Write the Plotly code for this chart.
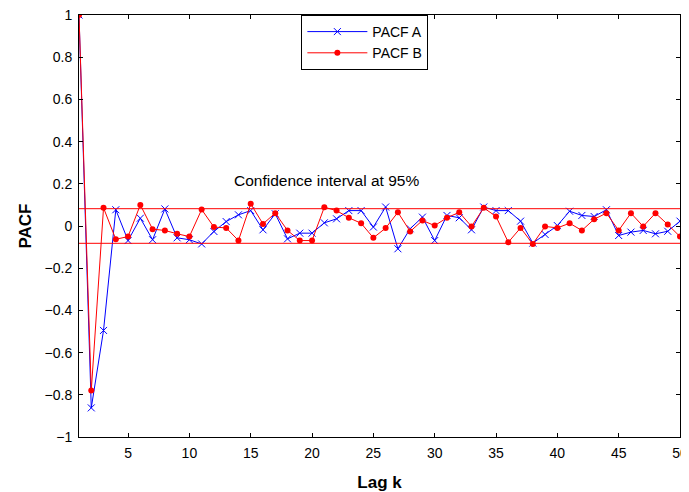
import plotly.graph_objects as go

lags = list(range(1, 51))

pacf_a = [1.0, -0.862, -0.495, 0.077, -0.069, 0.037, -0.065, 0.081, -0.056, -0.065,
          -0.085, -0.026, 0.021, 0.053, 0.073, -0.018, 0.058, -0.061, -0.034, -0.034,
          0.015, 0.034, 0.073, 0.073, -0.005, 0.09, -0.108, -0.013, 0.042, -0.069,
          0.05, 0.039, -0.018, 0.09, 0.073, 0.073, 0.023, -0.081, -0.04, 0.002,
          0.07, 0.05, 0.045, 0.077, -0.045, -0.029, -0.021, -0.037, -0.025, 0.023]

pacf_b = [1.0, -0.78, 0.086, -0.063, -0.05, 0.10, -0.015, -0.021, -0.037, -0.05,
          0.078, -0.005, -0.009, -0.069, 0.105, 0.01, 0.061, -0.021, -0.069, -0.069,
          0.089, 0.073, 0.039, 0.013, -0.056, -0.01, 0.065, -0.026, 0.026, 0.002,
          0.039, 0.065, -0.002, 0.086, 0.045, -0.077, -0.009, -0.085, -0.002, -0.009,
          0.013, -0.021, 0.032, 0.061, -0.021, 0.061, -0.002, 0.061, 0.007, -0.05]

ci = 0.082

fig = go.Figure()
fig.add_trace(go.Scatter(x=lags, y=pacf_a, mode="lines+markers", name="PACF A",
                         line=dict(color="blue", width=1),
                         marker=dict(symbol="x-thin", size=7, color="blue",
                                     line=dict(color="blue", width=1))))
fig.add_trace(go.Scatter(x=lags, y=pacf_b, mode="lines+markers", name="PACF B",
                         line=dict(color="red", width=1),
                         marker=dict(symbol="circle", size=6, color="red")))

# confidence band
for lvl in [ci, -ci]:
    fig.add_shape(type="line", xref="x", yref="y", x0=lags[0], x1=lags[-1],
                  y0=lvl, y1=lvl, line=dict(color="red", width=1))

fig.add_annotation(x=21.2, y=0.215, text="Confidence interval at 95%",
                   showarrow=False, font=dict(size=15.5, color="black"))

axis_style = dict(showgrid=False, zeroline=False, showline=True, linecolor="black",
                  linewidth=1, mirror="allticks", ticks="inside", ticklen=4,
                  tickcolor="black", tickfont=dict(size=14, color="black"),
                  automargin=False, ticklabeloverflow="allow", ticklabelstandoff=3)

fig.update_xaxes(range=[1, 50], tickvals=list(range(5, 51, 5)),
                 title=dict(text="<b>Lag k</b>", font=dict(size=17, color="black"),
                            standoff=16),
                 **axis_style)
fig.update_yaxes(range=[-1, 1], tickvals=[round(-1 + 0.2 * i, 1) for i in range(11)],
                 title=dict(text="<b>PACF</b>", font=dict(size=17, color="black"),
                            standoff=8),
                 **axis_style)

# page body adds 8px around the plot, so the figure is sized to fit inside it
fig.update_layout(
    width=681, height=484,
    margin=dict(l=71, r=9, t=7, b=55),
    plot_bgcolor="white", paper_bgcolor="white",
    font=dict(family="Liberation Sans, Arial", color="black"),
    legend=dict(x=0.37, y=1, xanchor="left", yanchor="top",
                bgcolor="white", bordercolor="black", borderwidth=1,
                font=dict(size=14), tracegroupgap=0, itemwidth=60),
)

fig.write_html("out.html")
